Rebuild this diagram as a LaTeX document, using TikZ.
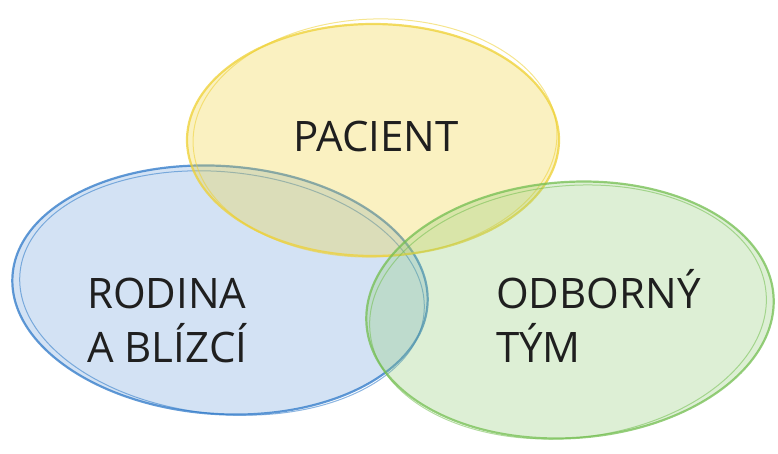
\documentclass[tikz,border=0pt]{standalone}
\usepackage{fontspec}
\setmainfont{Open Sans}
\usetikzlibrary{positioning}

\definecolor{pacyellow}{RGB}{238,208,50}
\definecolor{rodblue}{RGB}{45,120,200}
\definecolor{odbgreen}{RGB}{115,190,80}

\tikzset{
  crayon/.style={line width=2.2pt, opacity=.75, fill opacity=.3},
  crayonline/.style={line width=1pt, opacity=.55},
  label/.style={font=\fontsize{42}{54}\selectfont, text=black!88, inner sep=0pt}
}

\begin{document}
\begin{tikzpicture}[x=1pt, y=-1pt]
		\useasboundingbox (0,0) rectangle (778,454);
		
		% Rodina
		\draw[crayon, draw=rodblue, fill=rodblue!70] (220,290) ellipse[x radius=208, y radius=124, rotate=-4];
		\draw[crayonline, draw=rodblue] (222,293) ellipse[x radius=203, y radius=121, rotate=-6];
		
		% Pacient
		\draw[crayon, draw=pacyellow, fill=pacyellow] (373,140) ellipse[x radius=186, y radius=116];
		\draw[crayonline, draw=pacyellow] (375,138) ellipse[x radius=182, y radius=119, rotate=2];
		
		% Odborny tym
		\draw[crayon, draw=odbgreen, fill=odbgreen!80] (570,310) ellipse[x radius=204, y radius=128, rotate=4];
		\draw[crayonline, draw=odbgreen] (568,312) ellipse[x radius=199, y radius=126, rotate=6];
		
		% Texty
		\node[label, anchor=base] (pacient) at (376,152) {PACIENT};
		\node[label, anchor=base west] (rodina) at (87,308) {RODINA};
		\node[label, anchor=base west] (blizci) at (87,362) {A BLÍZCÍ};
		\node[label, anchor=base west] (odborny) at (496,308) {ODBORNÝ};
		\node[label, anchor=base west] (tym) at (496,362) {TÝM};
	\end{tikzpicture}
\end{document}
